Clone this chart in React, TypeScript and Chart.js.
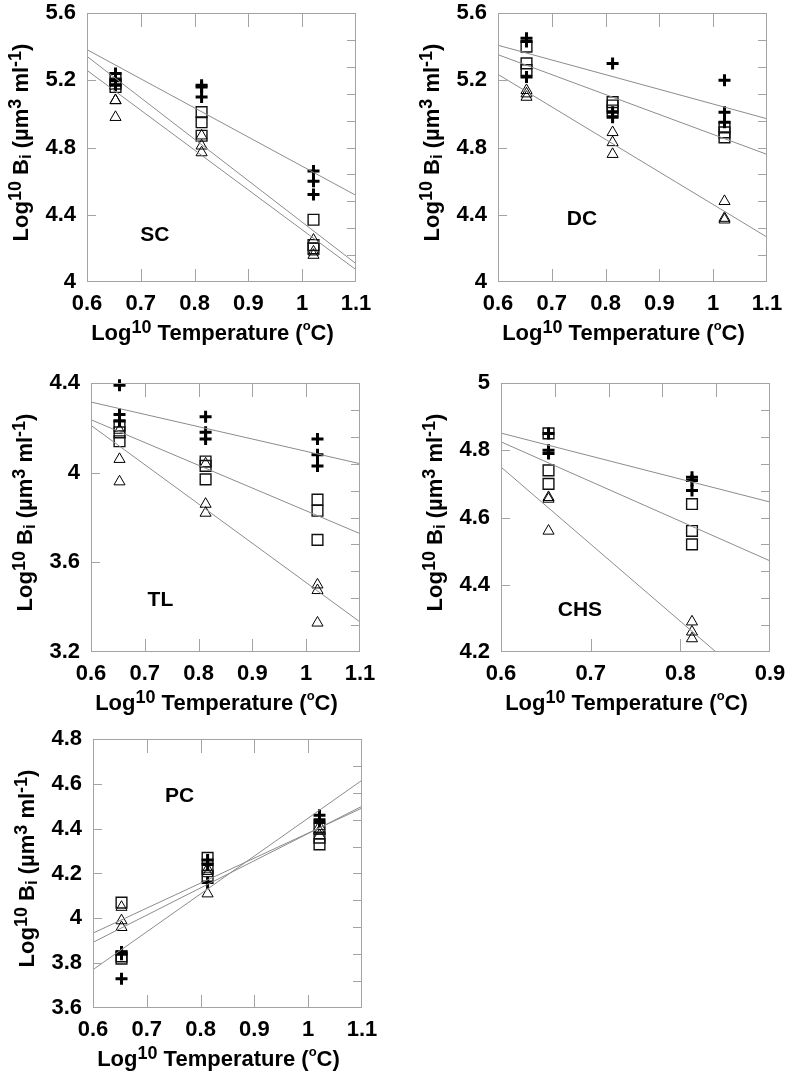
import React, { useEffect, useRef } from 'react';
import { Chart, registerables } from 'chart.js';

Chart.register(...registerables);

// ---------- data ----------
// log10 temperature of the three (or two) incubation groups
const TEMPS = [0.653, 0.813, 1.021];

// SC
const SC_PLUS = [5.24, 5.2, 5.17, 5.17, 5.16, 5.1, 4.66, 4.6, 4.52];
const SC_SQUARE = [5.21, 5.18, 5.16, 5.01, 4.95, 4.87, 4.37, 4.22, 4.2];
const SC_TRIANGLE = [5.08, 5.08, 4.98, 4.87, 4.81, 4.77, 4.25, 4.18, 4.16];
const SC_FITS = [[5.382, 4.515], [5.342, 4.109], [5.259, 4.073]];

// DC
const DC_PLUS = [5.45, 5.43, 5.22, 5.3, 5.01, 4.98, 5.2, 5.01, 4.95];
const DC_SQUARE = [5.4, 5.3, 5.26, 5.07, 5.05, 5.02, 4.92, 4.89, 4.86];
const DC_TRIANGLE = [5.14, 5.12, 5.1, 4.89, 4.83, 4.76, 4.48, 4.38, 4.37];
const DC_FITS = [[5.408, 4.971], [5.352, 4.759], [5.235, 4.267]];

// TL
const TL_PLUS = [4.39, 4.26, 4.23, 4.25, 4.18, 4.15, 4.15, 4.08, 4.03];
const TL_SQUARE = [4.21, 4.18, 4.14, 4.05, 4.03, 3.97, 3.88, 3.83, 3.7];
const TL_TRIANGLE = [4.19, 4.06, 3.96, 4.04, 3.86, 3.82, 3.5, 3.475, 3.33];
const TL_FITS = [[4.315, 4.04], [4.236, 3.728], [4.211, 3.334]];

// CHS (two temperatures only)
const CHS_PLUS = [4.85, 4.8, 4.79, 4.72, 4.71, 4.68];
const CHS_SQUARE = [4.85, 4.74, 4.7, 4.64, 4.56, 4.52];
const CHS_TRIANGLE = [4.66, 4.655, 4.56, 4.29, 4.26, 4.24];
const CHS_FITS = [[4.851, 4.646], [4.825, 4.471], [4.75, 4.062]];

// PC
const PC_PLUS = [3.85, 3.84, 3.73, 4.26, 4.24, 4.16, 4.46, 4.44, 4.43];
const PC_SQUARE = [4.07, 3.83, 3.82, 4.27, 4.22, 4.19, 4.4, 4.36, 4.33];
const PC_TRIANGLE = [4.05, 3.99, 3.96, 4.22, 4.2, 4.11, 4.41, 4.39, 4.37];
const PC_FITS = [[3.934, 4.492], [3.893, 4.5], [3.771, 4.616]];

// axis ranges [min, max, step]
const X_RANGE_LONG = [0.6, 1.1, 0.1];
const X_RANGE_SHORT = [0.6, 0.9, 0.1];
const SC_Y = [4, 5.6, 0.4];
const DC_Y = [4, 5.6, 0.4];
const TL_Y = [3.2, 4.4, 0.4];
const CHS_Y = [4.2, 5, 0.2];
const PC_Y = [3.6, 4.8, 0.2];

// panel labels (data coordinates)
const LABELS = ['SC', 'DC', 'TL', 'CHS', 'PC'];
const LABEL_POS = [[0.726, 4.278], [0.756, 4.373], [0.729, 3.431], [0.688, 4.324], [0.761, 4.543]];

// ---------- layout ----------
const FAMILY = '"Liberation Sans", Arial, Helvetica, sans-serif';
const PLOT = 269;
const AXIS_W = 88;
const PAD_TOP = 28;
const X_AXIS_H = 69;
const CW = 395;
const CH = PAD_TOP + PLOT + X_AXIS_H;
const FRAME = '#a3a3a3';
const FIT_COLOR = '#8c8c8c';

type Panel = {
  name: string;
  labelPos: number[];
  xr: number[];
  yr: number[];
  plus: number[];
  square: number[];
  triangle: number[];
  fits: number[][];
  left: number;
  top: number;
};

const PANELS: Panel[] = [
  { name: LABELS[0], labelPos: LABEL_POS[0], xr: X_RANGE_LONG, yr: SC_Y, plus: SC_PLUS, square: SC_SQUARE, triangle: SC_TRIANGLE, fits: SC_FITS, left: 87, top: 13 },
  { name: LABELS[1], labelPos: LABEL_POS[1], xr: X_RANGE_LONG, yr: DC_Y, plus: DC_PLUS, square: DC_SQUARE, triangle: DC_TRIANGLE, fits: DC_FITS, left: 498, top: 13 },
  { name: LABELS[2], labelPos: LABEL_POS[2], xr: X_RANGE_LONG, yr: TL_Y, plus: TL_PLUS, square: TL_SQUARE, triangle: TL_TRIANGLE, fits: TL_FITS, left: 91, top: 383 },
  { name: LABELS[3], labelPos: LABEL_POS[3], xr: X_RANGE_SHORT, yr: CHS_Y, plus: CHS_PLUS, square: CHS_SQUARE, triangle: CHS_TRIANGLE, fits: CHS_FITS, left: 501, top: 383 },
  { name: LABELS[4], labelPos: LABEL_POS[4], xr: X_RANGE_LONG, yr: PC_Y, plus: PC_PLUS, square: PC_SQUARE, triangle: PC_TRIANGLE, fits: PC_FITS, left: 93, top: 739 },
];

const toPoints = (vals: number[]) => vals.map((v, k) => ({ x: TEMPS[Math.floor(k / 3)], y: v }));
const fmt = (v: any) => String(parseFloat(Number(v).toFixed(3)));

type Part = { t: string; s: number; dy: number };
const Y_TITLE: Part[] = [
  { t: 'Log', s: 22, dy: 0 },
  { t: '10', s: 18, dy: -7 },
  { t: ' B', s: 22, dy: 0 },
  { t: 'i', s: 17, dy: 3 },
  { t: ' (µm', s: 22, dy: 0 },
  { t: '3', s: 18, dy: -7 },
  { t: ' ml', s: 22, dy: 0 },
  { t: '-1', s: 18, dy: -7 },
  { t: ')', s: 22, dy: 0 },
];
const X_TITLE: Part[] = [
  { t: 'Log', s: 22, dy: 0 },
  { t: '10', s: 18, dy: -7 },
  { t: ' Temperature (', s: 22, dy: 0 },
  { t: 'o', s: 13, dy: -10 },
  { t: 'C)', s: 22, dy: 0 },
];

function drawRich(ctx: CanvasRenderingContext2D, parts: Part[], cx: number, by: number) {
  let total = 0;
  const widths: number[] = [];
  for (const p of parts) {
    ctx.font = `bold ${p.s}px ${FAMILY}`;
    const w = ctx.measureText(p.t).width;
    widths.push(w);
    total += w;
  }
  let x = cx - total / 2;
  ctx.textAlign = 'left';
  ctx.textBaseline = 'alphabetic';
  parts.forEach((p, i) => {
    ctx.font = `bold ${p.s}px ${FAMILY}`;
    ctx.fillText(p.t, x, by + p.dy);
    x += widths[i];
  });
}

function PanelChart({ p }: { p: Panel }) {
  const ref = useRef<HTMLCanvasElement>(null);
  useEffect(() => {
    const [xMin, xMax, xStep] = p.xr;
    const [yMin, yMax, yStep] = p.yr;
    const frame = {
      id: 'frame',
      afterDraw(chart: any) {
        const { ctx, chartArea: a, scales } = chart;
        const xs = scales.x;
        const ys = scales.y;
        ctx.save();
        ctx.strokeStyle = FRAME;
        ctx.lineWidth = 1;
        ctx.strokeRect(a.left + 0.5, a.top + 0.5, a.right - a.left - 1, a.bottom - a.top - 1);
        ctx.beginPath();
        // bottom ticks at major values
        xs.ticks.forEach((t: any) => {
          if (t.value <= xMin + 1e-9 || t.value >= xMax - 1e-9) return;
          const px = Math.round(xs.getPixelForValue(t.value)) + 0.5;
          ctx.moveTo(px, a.bottom);
          ctx.lineTo(px, a.bottom - 13);
        });
        // top ticks: five divisions
        for (let i = 1; i < 5; i++) {
          const px = Math.round(xs.getPixelForValue(xMin + (i * (xMax - xMin)) / 5)) + 0.5;
          ctx.moveTo(px, a.top);
          ctx.lineTo(px, a.top + 14);
        }
        // left ticks at major values
        ys.ticks.forEach((t: any) => {
          if (t.value <= yMin + 1e-9 || t.value >= yMax - 1e-9) return;
          const py = Math.round(ys.getPixelForValue(t.value)) + 0.5;
          ctx.moveTo(a.left, py);
          ctx.lineTo(a.left + 9, py);
        });
        // right ticks: ten divisions
        for (let i = 1; i < 10; i++) {
          const py = Math.round(ys.getPixelForValue(yMin + (i * (yMax - yMin)) / 10)) + 0.5;
          ctx.moveTo(a.right, py);
          ctx.lineTo(a.right - 9, py);
        }
        ctx.stroke();

        ctx.fillStyle = '#000';
        // panel label
        ctx.font = `bold 21px ${FAMILY}`;
        ctx.textAlign = 'center';
        ctx.textBaseline = 'middle';
        ctx.fillText(p.name, xs.getPixelForValue(p.labelPos[0]), ys.getPixelForValue(p.labelPos[1]));

        // x title
        drawRich(ctx, X_TITLE, (a.left + a.right) / 2 - 9, a.bottom + 58);
        // y title
        ctx.save();
        ctx.translate(a.left - 59, (a.top + a.bottom) / 2 - 5);
        ctx.rotate(-Math.PI / 2);
        drawRich(ctx, Y_TITLE, 0, 0);
        ctx.restore();
        ctx.restore();
      },
    };

    const fitSets = p.fits.map((f) => ({
      data: [
        { x: xMin, y: f[0] },
        { x: xMax, y: f[1] },
      ],
      showLine: true,
      borderColor: FIT_COLOR,
      borderWidth: 1,
      pointRadius: 0,
      order: 0,
    }));

    const chart = new Chart(ref.current as HTMLCanvasElement, {
      type: 'scatter',
      data: {
        datasets: [
          ...fitSets,
          {
            data: toPoints(p.plus),
            pointStyle: 'cross',
            pointRadius: 6,
            borderWidth: 3,
            borderColor: '#000',
            backgroundColor: 'transparent',
            clip: false,
            order: 1,
          },
          {
            data: toPoints(p.square),
            pointStyle: 'rect',
            pointRadius: 7.6,
            borderWidth: 1.4,
            borderColor: '#111',
            backgroundColor: 'transparent',
            clip: false,
            order: 2,
          },
          {
            data: toPoints(p.triangle),
            pointStyle: 'triangle',
            pointRadius: 6.4,
            borderWidth: 1,
            borderColor: '#000',
            backgroundColor: 'transparent',
            clip: false,
            order: 3,
          },
        ] as any,
      },
      options: {
        responsive: false,
        animation: false,
        events: [],
        layout: { padding: { top: PAD_TOP, left: 0, right: CW - AXIS_W - PLOT, bottom: 0 } },
        plugins: { legend: { display: false }, tooltip: { enabled: false } },
        scales: {
          x: {
            type: 'linear',
            min: xMin,
            max: xMax,
            afterFit: (s: any) => {
              s.height = X_AXIS_H;
            },
            grid: { display: false, drawTicks: false },
            border: { display: false },
            ticks: { stepSize: xStep, color: '#000', padding: 9, callback: fmt, font: { family: FAMILY, size: 22, weight: 'bold' } },
          },
          y: {
            type: 'linear',
            min: yMin,
            max: yMax,
            afterFit: (s: any) => {
              s.width = AXIS_W;
            },
            grid: { display: false, drawTicks: false },
            border: { display: false },
            ticks: { stepSize: yStep, color: '#000', padding: 11, callback: fmt, font: { family: FAMILY, size: 22, weight: 'bold' } },
          },
        },
      } as any,
      plugins: [frame],
    });
    return () => chart.destroy();
  }, [p]);

  return (
    <canvas
      ref={ref}
      width={CW}
      height={CH}
      style={{ position: 'absolute', left: p.left - AXIS_W, top: p.top - PAD_TOP, width: CW, height: CH }}
    />
  );
}

export default function App() {
  return (
    <div
      style={{
        position: 'absolute',
        left: 0,
        top: 0,
        width: 789,
        height: 1077,
        overflow: 'hidden',
        background: '#fff',
      }}
    >
      {PANELS.map((p) => (
        <PanelChart key={p.name} p={p} />
      ))}
    </div>
  );
}
